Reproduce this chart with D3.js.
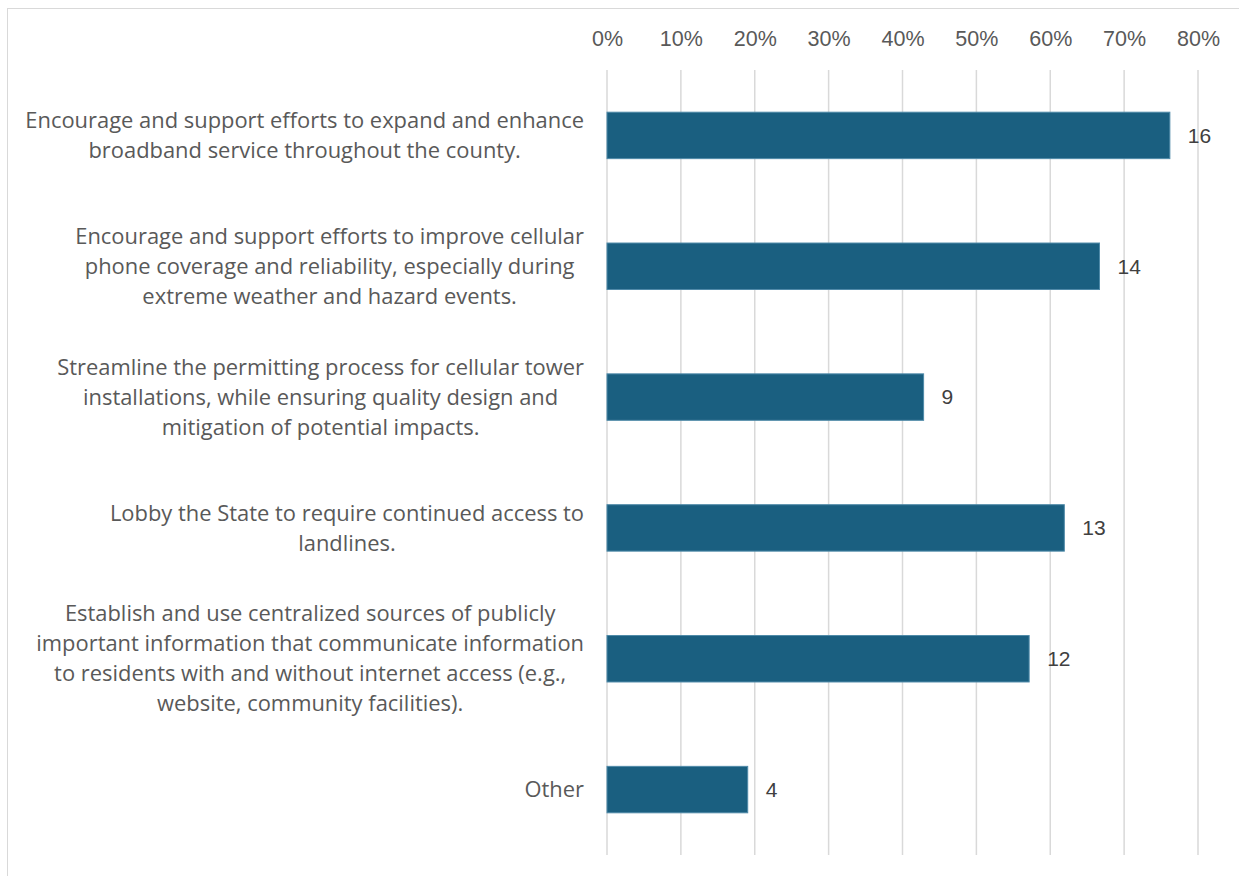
<!DOCTYPE html>
<html>
<head>
<meta charset="utf-8">
<script src="https://cdn.jsdelivr.net/npm/d3@7"></script>
<style>
  html, body { margin: 0; padding: 0; background: #ffffff; overflow: hidden; }
  svg { display: block; }
</style>
</head>
<body>
<svg id="chart" width="1239" height="876"></svg>
<script>
const categories = [
  ["Encourage and support efforts to expand and enhance", "broadband service throughout the county."],
  ["Encourage and support efforts to improve cellular", "phone coverage and reliability, especially during", "extreme weather and hazard events."],
  ["Streamline the permitting process for cellular tower", "installations, while ensuring quality design and", "mitigation of potential impacts."],
  ["Lobby the State to require continued access to", "landlines."],
  ["Establish and use centralized sources of publicly", "important information that communicate information", "to residents with and without internet access (e.g.,", "website, community facilities)."],
  ["Other"]
];
const counts = [16, 14, 9, 13, 12, 4];
const respondents = 21;
const tickValues = [0, 0.1, 0.2, 0.3, 0.4, 0.5, 0.6, 0.7, 0.8];

const svg = d3.select("#chart");
const W = 1239, H = 876;

// outer border of the chart area
svg.append("rect")
  .attr("x", 7.5).attr("y", 8.5)
  .attr("width", W + 20).attr("height", H + 20)
  .attr("fill", "#fff").attr("stroke", "#d9d9d9").attr("stroke-width", 1);

const x = d3.scaleLinear().domain([0, 0.8]).range([607, 1198]);
const y = d3.scaleBand()
  .domain(d3.range(categories.length))
  .range([70, 855])
  .paddingInner(0.645)
  .paddingOuter(0.3225);

// gridlines
svg.append("g")
  .selectAll("line")
  .data(tickValues)
  .join("line")
  .attr("x1", d => x(d)).attr("x2", d => x(d))
  .attr("y1", 70).attr("y2", 855)
  .attr("stroke", "#d9d9d9").attr("stroke-width", 1.5);

// top axis tick labels
const axis = d3.axisTop(x).tickValues(tickValues).tickFormat(d3.format(".0%")).tickSize(0).tickPadding(0);
const axG = svg.append("g").attr("transform", "translate(0,45.5)").call(axis);
axG.select(".domain").remove();
axG.selectAll("text")
  .attr("fill", "#595959")
  .attr("font-family", "'Liberation Sans', Arial, sans-serif")
  .attr("font-size", 21.5);

// bars
svg.append("g")
  .selectAll("rect")
  .data(counts)
  .join("rect")
  .attr("x", x(0))
  .attr("y", (d, i) => y(i))
  .attr("width", d => x(d / respondents) - x(0))
  .attr("height", y.bandwidth())
  .attr("fill", "#1a5f80")
  .attr("stroke", "#4f8aa8")
  .attr("stroke-width", 1);

// value labels
svg.append("g")
  .selectAll("text")
  .data(counts)
  .join("text")
  .attr("x", d => x(d / respondents) + 18)
  .attr("y", (d, i) => y(i) + y.bandwidth() / 2)
  .attr("dy", "0.35em")
  .attr("fill", "#404040")
  .attr("font-family", "'Liberation Sans', Arial, sans-serif")
  .attr("font-size", 21)
  .text(d => d);

// category labels (multi-line, centred block, right-aligned to axis)
const lineH = 30;
const labG = svg.append("g");
const labFont = "'Open Sans', Roboto, sans-serif";
// fit font so that the first line of the first label spans ~559px as in reference
const probe = labG.append("text").attr("font-family", labFont).attr("font-size", 20).text(categories[0][0]);
const labSize = 20 * 559 / probe.node().getComputedTextLength();
probe.remove();

categories.forEach((lines, i) => {
  const cy = y(i) + y.bandwidth() / 2;
  const t = labG.append("text")
    .attr("fill", "#595959")
    .attr("font-family", labFont)
    .attr("font-size", labSize)
    .attr("text-anchor", "middle");
  const spans = lines.map((ln, k) => t.append("tspan")
    .attr("y", cy + (k - (lines.length - 1) / 2) * lineH)
    .attr("dy", "0.35em")
    .text(ln));
  let maxW = 0;
  spans.forEach(s => { maxW = Math.max(maxW, s.node().getComputedTextLength()); });
  spans.forEach(s => s.attr("x", 584 - maxW / 2));
});
</script>
</body>
</html>
